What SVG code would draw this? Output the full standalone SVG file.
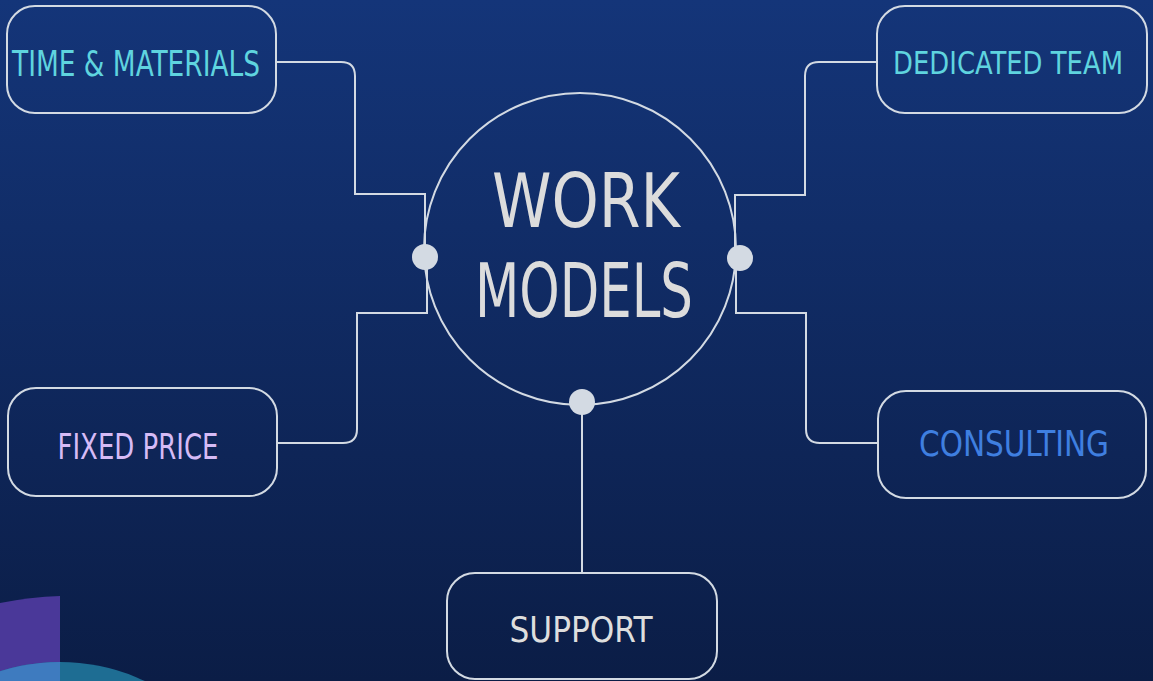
<svg xmlns="http://www.w3.org/2000/svg" width="1153" height="681" viewBox="0 0 1153 681">
<defs>
<linearGradient id="bg" x1="0" y1="0" x2="0" y2="1">
<stop offset="0" stop-color="#143579"/>
<stop offset="1" stop-color="#0b1d46"/>
</linearGradient>
<clipPath id="left60"><rect x="0" y="0" width="60" height="681"/></clipPath>
<style>
.box{fill:none;stroke:#d3dae3;stroke-width:2}
.con{fill:none;stroke:#d3dae3;stroke-width:2}
.dot{fill:#d3dae3}
.lbl{font-family:"DejaVu Sans Condensed","DejaVu Sans",sans-serif;font-size:36px;text-anchor:middle}
.big{font-family:"DejaVu Sans Condensed","DejaVu Sans",sans-serif;font-size:74px;fill:#dcdcdc;text-anchor:middle}
</style>
</defs>
<rect width="1153" height="681" fill="url(#bg)"/>
<g id="decor">
<path d="M0,603 Q30,597 60,596 L60,681 L0,681 Z" fill="#4a3899"/>
<circle cx="60" cy="861" r="199" fill="#1e6d93"/>
<circle cx="60" cy="861" r="199" fill="#3e7bbf" clip-path="url(#left60)"/>
</g>
<g id="connectors">
<path class="con" d="M276,62 H341 Q355,62 355,76 V194 H425 V257"/>
<path class="con" d="M277,443 H343 Q357,443 357,429 V313 H427 V257"/>
<path class="con" d="M878,62 H819 Q805,62 805,76 V195 H735 V258"/>
<path class="con" d="M878,443 H820 Q806,443 806,429 V313 H736 V258"/>
<path class="con" d="M582,402 V573"/>
</g>
<g id="center">
<circle cx="580" cy="249" r="156" fill="none" stroke="#d3dae3" stroke-width="2"/>
<text class="big" x="586" y="227" textLength="188" lengthAdjust="spacingAndGlyphs">WORK</text>
<text class="big" x="584" y="317" textLength="218" lengthAdjust="spacingAndGlyphs">MODELS</text>
<circle class="dot" cx="425" cy="257" r="13"/>
<circle class="dot" cx="740" cy="258" r="13"/>
<circle class="dot" cx="582" cy="402" r="13"/>
</g>
<g id="time-materials">
<rect class="box" x="7" y="6" width="269" height="107" rx="28"/>
<text class="lbl" x="136" y="76" fill="#5fd4df" textLength="248" lengthAdjust="spacingAndGlyphs">TIME &amp; MATERIALS</text>
</g>
<g id="dedicated-team">
<rect class="box" x="877" y="6" width="270" height="107" rx="28"/>
<text class="lbl" x="1008" y="74" fill="#5fd4df" style="font-size:32px" textLength="230" lengthAdjust="spacingAndGlyphs">DEDICATED TEAM</text>
</g>
<g id="fixed-price">
<rect class="box" x="8" y="388" width="269" height="108" rx="28"/>
<text class="lbl" x="138" y="459" fill="#d6bbf6" textLength="161" lengthAdjust="spacingAndGlyphs">FIXED PRICE</text>
</g>
<g id="consulting">
<rect class="box" x="878" y="391" width="268" height="107" rx="28"/>
<text class="lbl" x="1014" y="456" fill="#3f7fe0" textLength="190" lengthAdjust="spacingAndGlyphs">CONSULTING</text>
</g>
<g id="support">
<rect class="box" x="447" y="573" width="270" height="106" rx="28"/>
<text class="lbl" x="581" y="642" fill="#dedede" textLength="143" lengthAdjust="spacingAndGlyphs">SUPPORT</text>
</g>
</svg>
